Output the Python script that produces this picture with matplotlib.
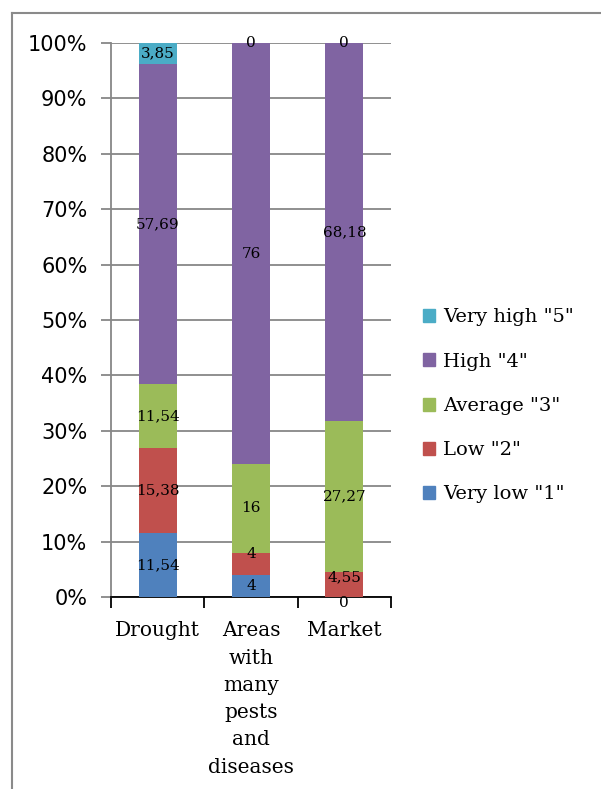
import matplotlib.pyplot as plt
from matplotlib.lines import Line2D
from matplotlib.patches import Patch

categories = ["Drought", "Areas\nwith\nmany\npests\nand\ndiseases", "Market"]
levels = ['Very low "1"', 'Low "2"', 'Average "3"', 'High "4"', 'Very high "5"']
very_low = [11.54, 4, 0]
low = [15.38, 4, 4.55]
average = [11.54, 16, 27.27]
high = [57.69, 76, 68.18]
very_high = [3.85, 0, 0]
series = [very_low, low, average, high, very_high]
colors = ["#4F81BD", "#C0504D", "#9BBB59", "#8064A2", "#4BACC6"]

# small vertical nudges (points) for labels that would collide
nudge = {(1, 1): 7, (1, 2): 5, (0, 2): -4}

serif = "DejaVu Serif"
grid_col = "#878787"

fig = plt.figure(figsize=(6.01, 7.89), dpi=100)
ax = fig.add_axes([111 / 601, 1 - 597 / 789, 280 / 601, 554 / 789])

x = range(len(categories))
bottoms = [0.0] * len(categories)
for k, (vals, col) in enumerate(zip(series, colors)):
    tot = [sum(s[i] for s in series) for i in x]
    frac = [vals[i] / tot[i] * 100 for i in x]
    ax.bar(x, frac, width=0.41, bottom=bottoms, color=col, zorder=3)
    for i in x:
        lab = ("%g" % vals[i]).replace(".", ",")
        ax.annotate(lab, (i, bottoms[i] + frac[i] / 2),
                    xytext=(0, nudge.get((k, i), 0)), textcoords="offset points",
                    ha="center", va="center", fontsize=11, family=serif, zorder=4)
    bottoms = [b + f for b, f in zip(bottoms, frac)]

ax.set_xlim(-0.5, 2.5)
ax.set_ylim(0, 100)
ax.set_yticks(range(0, 101, 10))
ax.set_yticklabels(["%d%%" % v for v in range(0, 101, 10)], fontsize=15, family="DejaVu Sans")
ax.yaxis.grid(True, color=grid_col, linewidth=1.3, zorder=0)
ax.tick_params(axis="y", length=7, width=1.3, color=grid_col, pad=10)

ax.set_xticks([-0.5, 0.5, 1.5, 2.5])
ax.set_xticklabels([])
ax.tick_params(axis="x", length=8, width=1.3, color="black", direction="out")
for i, c in enumerate(categories):
    ax.text(i, -4.4, c, ha="center", va="top", fontsize=14.5, family=serif,
            linespacing=1.55, transform=ax.transData)

for side in ["top", "right"]:
    ax.spines[side].set_visible(False)
ax.spines["left"].set_color(grid_col)
ax.spines["left"].set_linewidth(1.3)
ax.spines["bottom"].set_color("black")
ax.spines["bottom"].set_linewidth(1.3)

handles = [Patch(color=c) for c in reversed(colors)]
fig.legend(handles, list(reversed(levels)), loc="upper left",
           bbox_to_anchor=(405 / 601, 1 - 291 / 789), frameon=False,
           prop={"family": serif, "size": 14}, handlelength=0.65,
           handleheight=0.65, handletextpad=0.4, labelspacing=1.35)

# outer chart border
fig.add_artist(Line2D([12 / 601, 12 / 601], [0, 1 - 12.5 / 789], color="#8a8a8a", lw=1.5))
fig.add_artist(Line2D([12 / 601, 1], [1 - 12.5 / 789, 1 - 12.5 / 789], color="#8a8a8a", lw=1.5))

fig.savefig("out.png", dpi=100)
